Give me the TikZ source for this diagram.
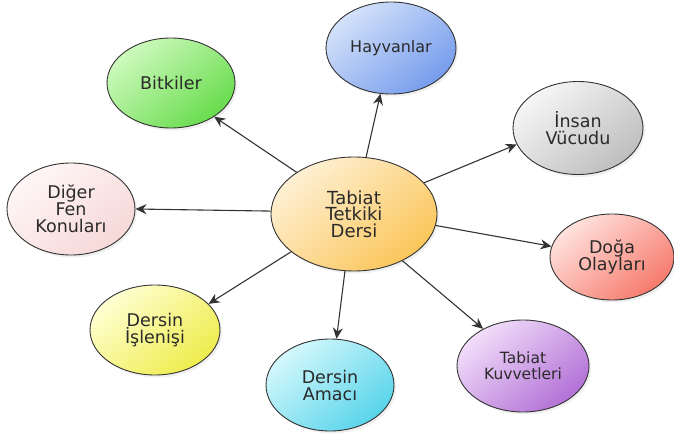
\documentclass[tikz,border=0pt]{standalone}
\usepackage{fontspec}
\setmainfont{DejaVu Sans}
\usetikzlibrary{shapes.geometric,arrows.meta,shadows}
\definecolor{txt}{HTML}{2A2A2A}
\definecolor{edge}{HTML}{333333}
\definecolor{arr}{HTML}{333333}
\definecolor{cA}{RGB}{254,240,212}\definecolor{cB}{RGB}{251,198,90}
\definecolor{hA}{RGB}{212,226,250}\definecolor{hB}{RGB}{118,156,236}
\definecolor{bA}{RGB}{206,250,190}\definecolor{bB}{RGB}{104,220,76}
\definecolor{iA}{RGB}{246,246,246}\definecolor{iB}{RGB}{190,190,190}
\definecolor{dA}{RGB}{255,246,246}\definecolor{dB}{RGB}{246,216,216}
\definecolor{oA}{RGB}{255,226,222}\definecolor{oB}{RGB}{246,122,108}
\definecolor{sA}{RGB}{255,255,210}\definecolor{sB}{RGB}{238,236,76}
\definecolor{mA}{RGB}{212,248,252}\definecolor{mB}{RGB}{88,212,234}
\definecolor{kA}{RGB}{242,222,250}\definecolor{kB}{RGB}{178,112,214}
\tikzset{
  bub/.style={ellipse, draw=edge, line width=0.9pt, inner sep=0pt, align=center,
    text=txt, font=\fontsize{17.5}{17}\selectfont,
    drop shadow={shadow xshift=2pt,shadow yshift=-2.5pt,opacity=0.12}},
  grad/.style 2 args={top color=#1, bottom color=#2, shading angle=40},
  link/.style={draw=arr, line width=1.1pt, -{Stealth[length=11pt,width=10pt]}}
}
\begin{document}
\begin{tikzpicture}[x=1pt,y=1pt]
\useasboundingbox (0,0) rectangle (674,445);
\node[bub, grad={cA}{cB}, minimum width=166, minimum height=114, font=\fontsize{18}{16.5}\selectfont] (c) at (354,231) {Tabiat\\Tetkiki\\Dersi};
\node[bub, grad={hA}{hB}, minimum width=130, minimum height=92, font=\fontsize{16}{16}\selectfont] (hay) at (391,397) {Hayvanlar};
\node[bub, grad={bA}{bB}, minimum width=128, minimum height=90] (bit) at (171,362) {Bitkiler};
\node[bub, grad={iA}{iB}, minimum width=130, minimum height=93] (ins) at (578,317) {İnsan\\Vücudu};
\node[bub, grad={dA}{dB}, minimum width=128, minimum height=92] (dig) at (71,236) {Diğer\\Fen\\Konuları};
\node[bub, grad={oA}{oB}, minimum width=124, minimum height=86] (dog) at (612,188) {Doğa\\Olayları};
\node[bub, grad={sA}{sB}, minimum width=130, minimum height=90] (isl) at (155,115) {Dersin\\İşlenişi};
\node[bub, grad={mA}{mB}, minimum width=128, minimum height=92] (ama) at (330,60) {Dersin\\Amacı};
\node[bub, grad={kA}{kB}, minimum width=132, minimum height=92, font=\fontsize{15.5}{16}\selectfont] (kuv) at (523,79) {Tabiat\\Kuvvetleri};
\draw[link] (c.144) -- (bit.-38);
\draw[link] (c.78) -- (hay.-103);
\draw[link] (c.24) -- (ins.-165);
\draw[link] (c.178) -- (dig.0);
\draw[link] (c.-8) -- (dog.170);
\draw[link] (c.-149) -- (isl.26);
\draw[link] (c.-99) -- (ama.82);
\draw[link] (c.-44) -- (kuv.137);
\end{tikzpicture}
\end{document}
